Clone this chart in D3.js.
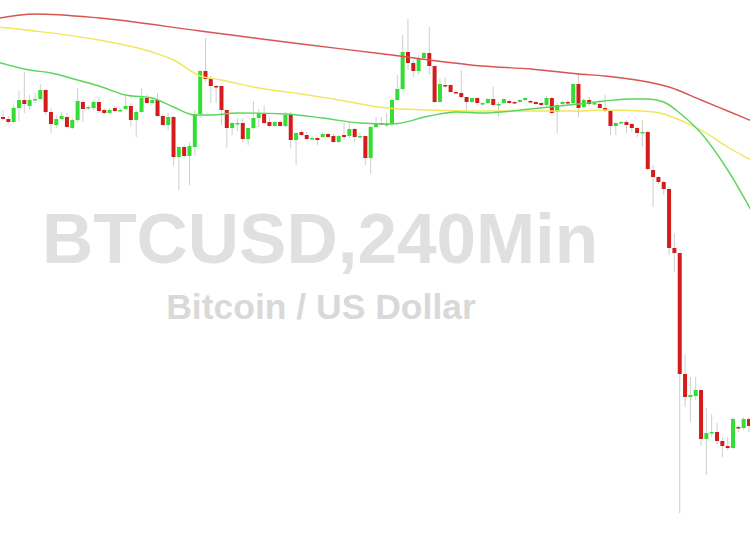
<!DOCTYPE html>
<html><head><meta charset="utf-8">
<script src="https://cdn.jsdelivr.net/npm/d3@7"></script>
<style>html,body{margin:0;padding:0;background:#fff;overflow:hidden}</style>
</head><body><svg id="c" width="750" height="536"></svg>
<script>
const title = "BTCUSD,240Min";
const subtitle = "Bitcoin / US Dollar";
const opens = [29830,29810,29780,29920,30000,29940,30000,30010,30100,29880,29750,29810,29830,29720,29800,29980,29920,29920,29980,29900,29870,29920,29890,29910,29940,29800,29880,30020,29970,30000,29840,29750,29830,29430,29530,29440,29530,29860,30290,30210,30140,30140,29900,29720,29760,29770,29610,29720,29820,29860,29780,29740,29780,29740,29850,29600,29680,29650,29610,29620,29630,29660,29640,29580,29650,29640,29710,29630,29640,29420,29730,29770,29750,29760,30000,30110,30480,30370,30290,30420,30470,30340,29980,30150,30150,30080,30070,30030,29980,30020,29960,29970,30010,29950,29970,29990,29980,29980,30000,29990,29980,29970,29950,30020,29880,29960,29980,29970,30160,29930,30000,29960,29960,29920,29890,29740,29770,29780,29760,29720,29670,29680,29300,29230,29180,29110,28520,28470,27260,27030,27040,27100,26610,26670,26680,26590,26540,26520,26730,26720,26810];
const highs = [29900,29840,29950,30090,30280,30050,30070,30160,30110,29920,29840,29880,29870,29820,30120,30000,29950,30000,30030,29920,29920,29940,29920,30040,29970,29900,30120,30050,30020,30070,29860,29870,29840,29540,29550,29580,29900,30300,30620,30240,30150,30140,29900,29780,29820,29820,29720,29990,29910,29950,29830,29790,29800,29880,29880,29670,29700,29680,29640,29630,29680,29670,29660,29650,29770,29780,29720,29670,29640,29740,29830,29830,29870,30020,30250,30650,30810,30400,30450,30480,30730,30340,30220,30230,30160,30100,30300,30030,30020,30030,29980,30020,30130,29980,30020,30000,29990,30010,30030,30000,29990,29980,30040,30030,29970,29990,30000,30170,30270,30020,30030,29990,30000,30050,29900,29780,29790,29800,29770,29730,29800,29690,29350,29240,29200,29130,28670,28470,27450,27230,27230,27100,26920,26860,26770,26630,26630,26830,26750,26830,26830];
const lows = [29790,29760,29770,29790,29870,29900,29970,30000,29850,29670,29720,29800,29720,29710,29780,29780,29900,29900,29870,29850,29860,29880,29880,29900,29730,29630,29870,29960,29960,29830,29740,29700,29340,29100,29420,29150,29440,29820,30180,29970,29970,29750,29520,29650,29690,29580,29550,29710,29730,29760,29730,29730,29730,29730,29520,29350,29640,29600,29600,29550,29620,29620,29570,29570,29600,29620,29580,29620,29350,29260,29720,29750,29740,29730,29990,30100,30300,30230,30250,30400,30250,29970,29970,30120,30070,30060,30020,29900,29970,29950,29940,29960,29930,29830,29960,29960,29960,29970,29990,29970,29950,29940,29940,29860,29670,29950,29960,29950,29830,29920,29940,29950,29910,29880,29650,29650,29760,29670,29680,29630,29530,29300,28930,29160,29050,28450,28280,25870,26930,26780,27000,26540,26250,26630,26560,26430,26500,26510,26680,26700,26680];
const closes = [29810,29780,29920,30000,29960,30000,30010,30100,29880,29760,29810,29840,29730,29800,29990,29910,29930,29980,29890,29870,29900,29890,29900,29940,29800,29880,30020,29970,30000,29840,29750,29830,29430,29530,29440,29540,29860,30290,30210,30140,30130,29900,29720,29770,29770,29610,29720,29820,29870,29770,29740,29780,29740,29850,29600,29670,29650,29610,29620,29600,29660,29630,29580,29640,29630,29710,29630,29640,29420,29730,29770,29760,29760,30000,30110,30480,30370,30290,30420,30470,30340,29980,30160,30140,30080,30070,30030,29980,30020,29970,29970,30010,29950,29960,30010,29970,29970,30000,30020,29980,29960,29950,30020,29870,29950,29980,29970,30160,29920,30000,29960,29970,29920,29890,29740,29770,29780,29750,29720,29670,29680,29310,29230,29180,29110,28520,28470,27260,27030,27050,27100,26610,26670,26680,26590,26540,26520,26810,26720,26810,26740];

const maRedIdx = [-1,6,18,37,56,73,80,90,99,108,113,120,125,131,136,141];
const maRed = [30815,30860,30820,30690,30560,30450,30400,30340,30310,30260,30240,30190,30130,30000,29890,29780];
const maYellowIdx = [-1,6,18,28,32,37,41,48,56,63,72,80,90,99,108,113,120,124,127,131,136,141];
const maYellow = [30730,30690,30600,30480,30400,30240,30200,30120,30060,30000,29920,29900,29890,29890,29890,29900,29890,29860,29800,29700,29530,29380];
const maGreenIdx = [-1,5,9,14,18,23,28,32,36,39,44,53,60,67,73,80,85,90,99,108,113,118,121,124,127,131,136,141];
const maGreen = [30380,30300,30270,30200,30140,30050,30020,29930,29850,29850,29870,29860,29820,29770,29760,29840,29880,29870,29910,29960,29990,30010,30010,29980,29870,29670,29300,28840];

const W = 750, H = 536;
const svg = d3.select("#c");
const n = opens.length;
const x = d3.scaleLinear().domain([0, n - 1]).range([3, 749]);
const y = d3.scaleLinear().domain([25640, 31000]).range([H, 0]);

// watermark text
svg.append("text").attr("x", 320).attr("y", 263).attr("text-anchor", "middle")
  .attr("font-family", "Liberation Sans, Arial, sans-serif").attr("font-weight", "bold")
  .attr("font-size", 71).attr("fill", "#e0e0e0").text(title);
svg.append("text").attr("x", 321).attr("y", 319).attr("text-anchor", "middle")
  .attr("font-family", "Liberation Sans, Arial, sans-serif").attr("font-weight", "bold")
  .attr("font-size", 35.5).attr("fill", "#d9d9d9").text(subtitle);

const data = d3.range(n).map(i => ({i, o: opens[i], h: highs[i], l: lows[i], c: closes[i]}));
const bw = 4;
const g = svg.append("g");
g.selectAll("line.wick").data(data).join("line")
  .attr("x1", d => x(d.i)).attr("x2", d => x(d.i))
  .attr("y1", d => y(d.h)).attr("y2", d => y(d.l))
  .attr("stroke", "#cfcfcf").attr("stroke-width", 1);
g.selectAll("rect.body").data(data).join("rect")
  .attr("x", d => x(d.i) - bw / 2).attr("width", bw)
  .attr("y", d => y(Math.max(d.o, d.c)))
  .attr("height", d => Math.max(1.5, Math.abs(y(d.o) - y(d.c))))
  .attr("fill", d => d.c >= d.o ? "#33dd33" : "#d31d1d");

function drawMA(idx, vals, color) {
  const line = d3.line().x(d => x(d[0])).y(d => y(d[1])).curve(d3.curveMonotoneX);
  svg.append("path").attr("d", line(idx.map((v, k) => [v, vals[k]])))
    .attr("fill", "none").attr("stroke", color).attr("stroke-width", 1.4);
}
drawMA(maRedIdx, maRed, "#d9534f");
drawMA(maYellowIdx, maYellow, "#f2e55c");
drawMA(maGreenIdx, maGreen, "#5ad65a");
</script></body></html>
